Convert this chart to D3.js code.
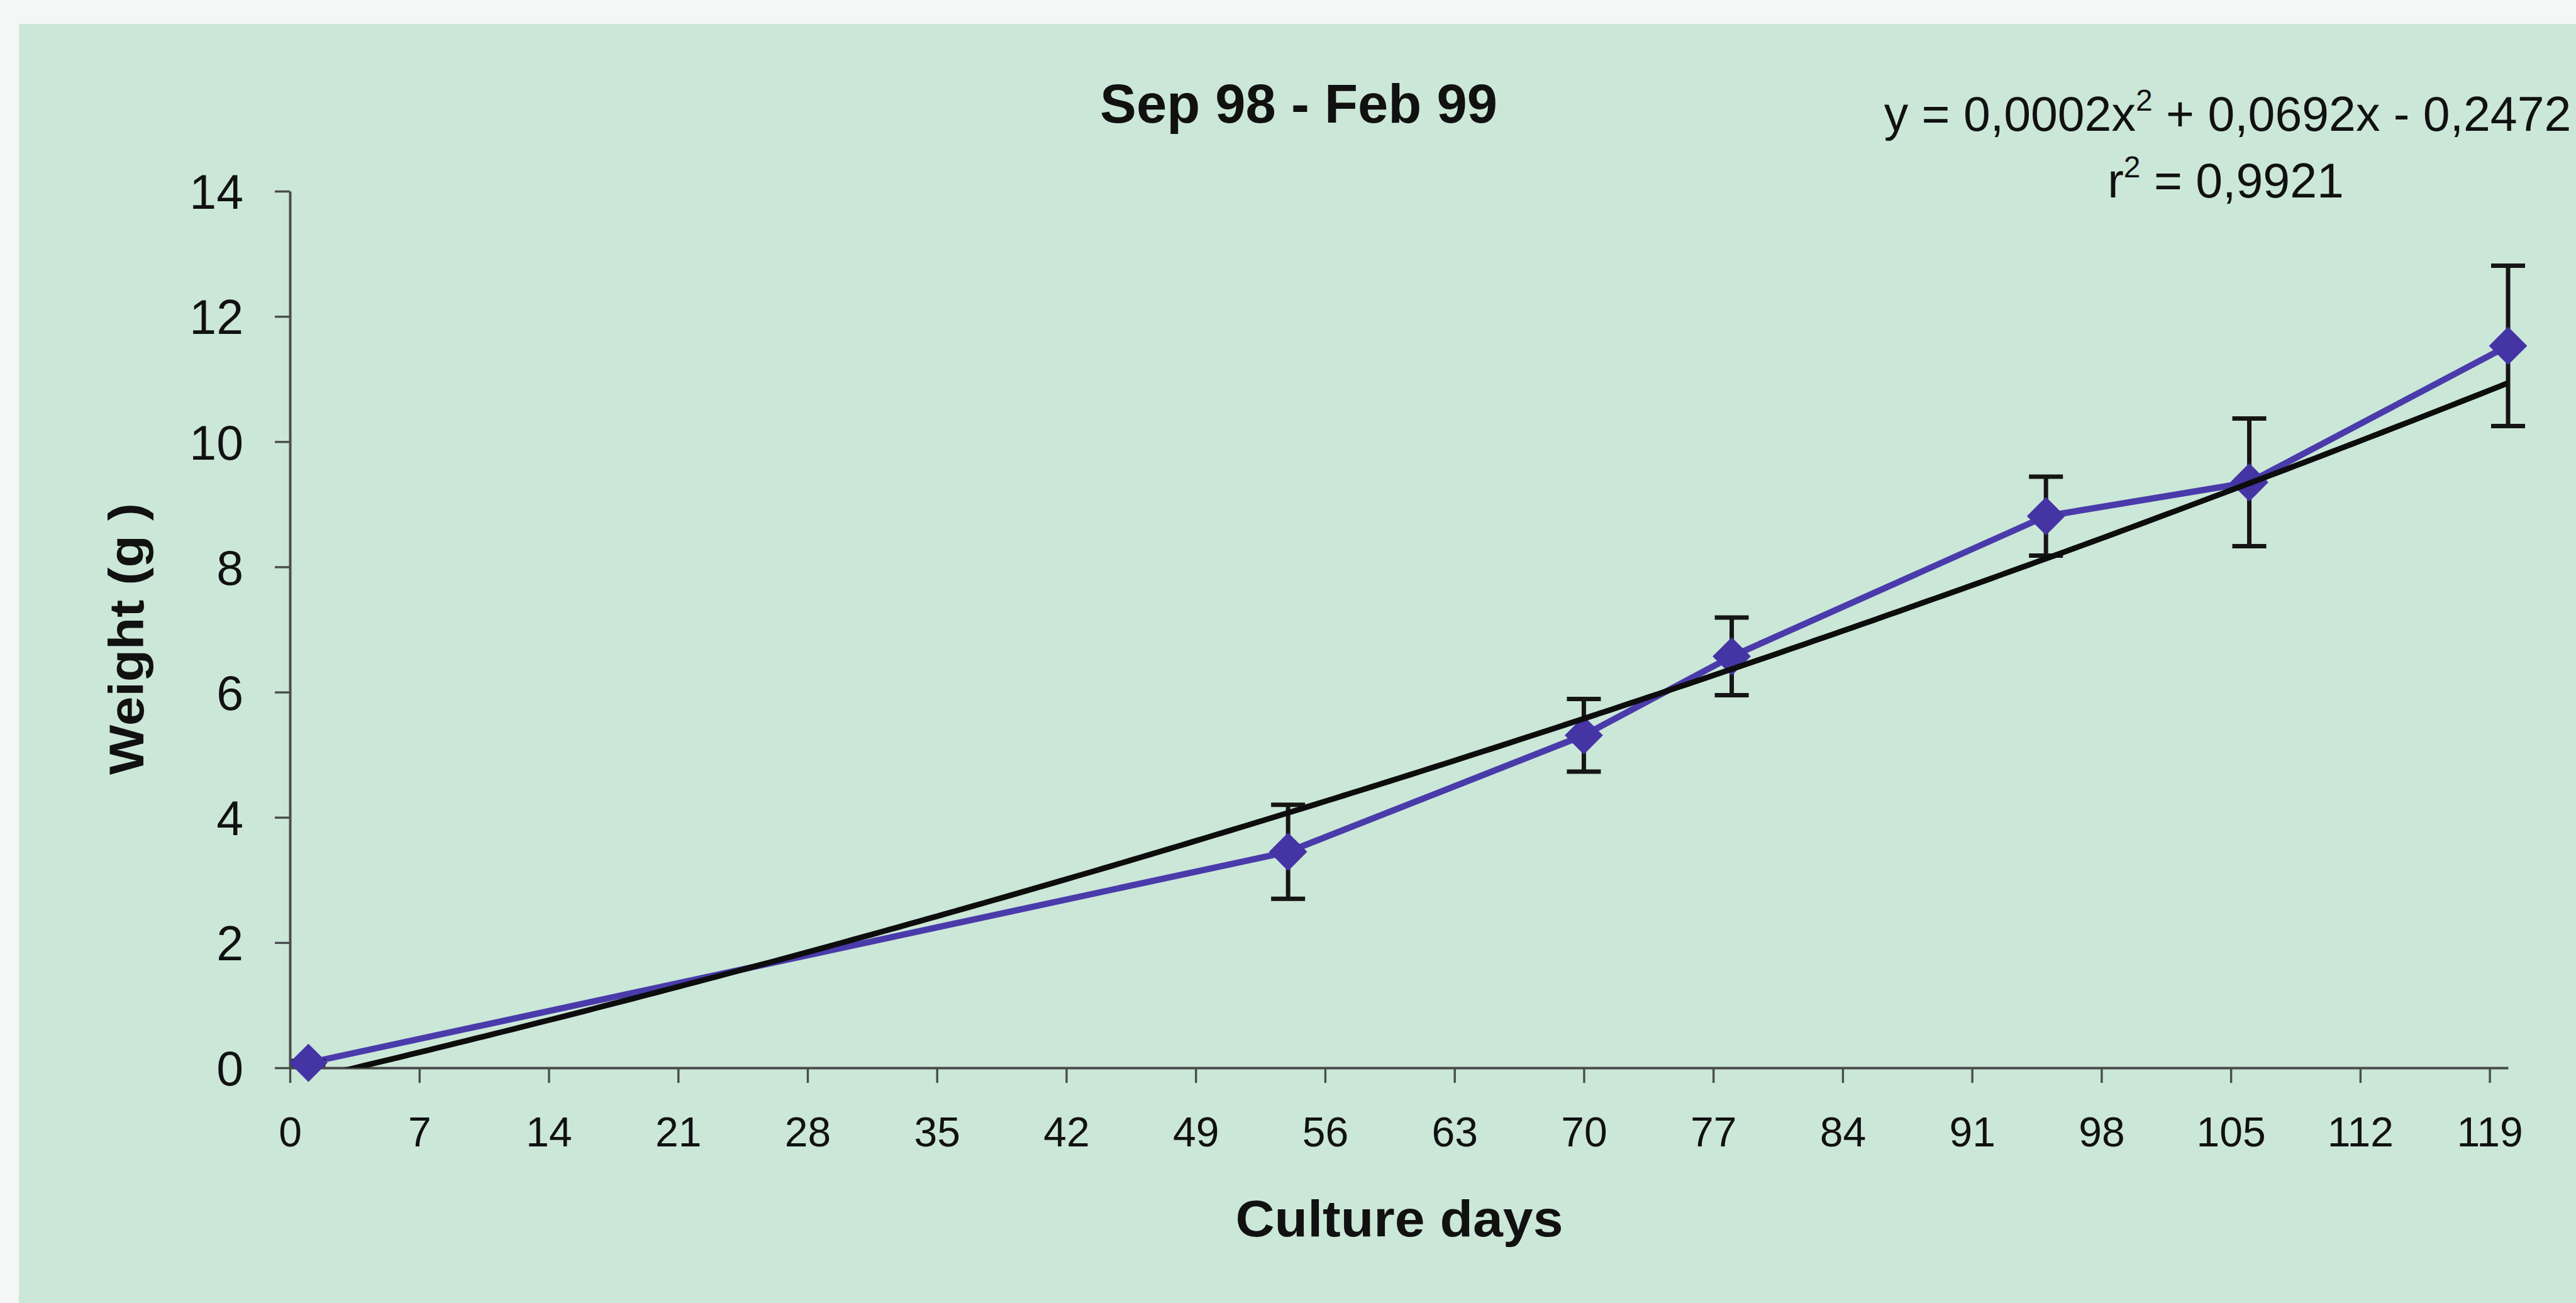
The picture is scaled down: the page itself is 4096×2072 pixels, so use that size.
<!DOCTYPE html>
<html>
<head>
<meta charset="utf-8">
<script src="https://cdn.jsdelivr.net/npm/d3@7"></script>
<style>
  html, body { margin: 0; padding: 0; background: #f4f7f5; overflow: hidden; }
  text { font-family: "Liberation Sans", Arial, Helvetica, sans-serif; fill: #111; }
</style>
</head>
<body>
<svg id="chart" width="4096" height="2072"></svg>
<script>
// ---- data ---------------------------------------------------------------
const cultureDays = [1, 54, 70, 78, 95, 106, 120];
const meanWeight  = [0.08, 3.45, 5.31, 6.57, 8.81, 9.35, 11.53];
const weightSD    = [0.03, 0.75, 0.58, 0.62, 0.63, 1.02, 1.28];

const dayTicks    = d3.range(0, 120, 7);      // 0, 7, ... 119
const weightTicks = d3.range(0, 15, 2);       // 0, 2, ... 14

// polynomial trend line: a*x^2 + b*x + c
const trendCoef = [0.0002, 0.0692, -0.2472];
const trendR2   = 0.9921;

const chartTitle = "Sep 98 - Feb 99";
const xTitle = "Culture days";
const yTitle = "Weight (g )";

// ---- layout -------------------------------------------------------------
const svg = d3.select("#chart");
const W = 4096, H = 2072;

const plot = { left: 461, right: 3988, top: 304, bottom: 1698 };

const x = d3.scaleLinear().domain([0, 120]).range([plot.left, plot.right]);
const y = d3.scaleLinear().domain([0, 14]).range([plot.bottom, plot.top]);

const lineBlue   = "#4a3bab";
const markerBlue = "#4434a4";
const axisGrey   = "#4a4c4b";

// chart area background
svg.append("rect")
  .attr("x", 30).attr("y", 38)
  .attr("width", W - 30).attr("height", H - 38)
  .attr("fill", "#cbe7d8");

// clip for marks inside the plot area
svg.append("defs").append("clipPath").attr("id", "plotClip")
  .append("rect")
  .attr("x", plot.left).attr("y", plot.top)
  .attr("width", plot.right - plot.left).attr("height", plot.bottom - plot.top);

// ---- axes ---------------------------------------------------------------
const yAxis = svg.append("g")
  .attr("transform", `translate(${plot.left},0)`)
  .call(d3.axisLeft(y).tickValues(weightTicks).tickSize(24).tickSizeOuter(0)
    .tickFormat(d3.format("d")));
yAxis.selectAll("text")
  .attr("x", -74).attr("dy", "0.36em")
  .style("font-size", "77px");

const xAxis = svg.append("g")
  .attr("transform", `translate(0,${plot.bottom})`)
  .call(d3.axisBottom(x).tickValues(dayTicks).tickSize(24).tickSizeOuter(0)
    .tickFormat(d3.format("d")));
xAxis.selectAll("text")
  .attr("y", 125).attr("dy", 0)
  .style("font-size", "66px");

[yAxis, xAxis].forEach(g => {
  g.selectAll("path.domain").attr("stroke", axisGrey).attr("stroke-width", 4);
  g.selectAll(".tick line").attr("stroke", axisGrey).attr("stroke-width", 3.4);
  g.selectAll("text").attr("fill", "#111").style("font-family", "'Liberation Sans', Arial, sans-serif");
});

// ---- series -------------------------------------------------------------
const pts = cultureDays.map((d, i) => ({ day: d, w: meanWeight[i], sd: weightSD[i] }));

const marks = svg.append("g").attr("clip-path", "url(#plotClip)");

// connecting line
marks.append("path")
  .datum(pts)
  .attr("fill", "none")
  .attr("stroke", lineBlue)
  .attr("stroke-width", 10)
  .attr("stroke-linejoin", "round")
  .attr("d", d3.line().x(p => x(p.day)).y(p => y(p.w)));

// error bars
const capHalf = 27;
const eb = svg.append("g").attr("stroke", "#151515").attr("stroke-width", 7);
pts.forEach(p => {
  const cx = x(p.day), y1 = y(p.w + p.sd), y2 = y(p.w - p.sd);
  eb.append("line").attr("x1", cx).attr("x2", cx).attr("y1", y1).attr("y2", y2);
  eb.append("line").attr("x1", cx - capHalf).attr("x2", cx + capHalf).attr("y1", y1).attr("y2", y1);
  eb.append("line").attr("x1", cx - capHalf).attr("x2", cx + capHalf).attr("y1", y2).attr("y2", y2);
});

// diamond markers
svg.append("g").selectAll("path")
  .data(pts)
  .join("path")
  .attr("d", d3.symbol(d3.symbolSquare, 43 * 43))
  .attr("transform", p => `translate(${x(p.day)},${y(p.w)}) rotate(45)`)
  .attr("fill", markerBlue);

// polynomial trend line over the observed range
const trend = d => trendCoef[0] * d * d + trendCoef[1] * d + trendCoef[2];
const trendDays = d3.range(cultureDays[0], cultureDays[cultureDays.length - 1] + 0.001, 0.5);
svg.append("g").attr("clip-path", "url(#plotClip)")
  .append("path")
  .datum(trendDays)
  .attr("fill", "none")
  .attr("stroke", "#0d0d0d")
  .attr("stroke-width", 9)
  .attr("stroke-linejoin", "round")
  .attr("d", d3.line().x(d => x(d)).y(d => y(trend(d))));

// ---- text ---------------------------------------------------------------
svg.append("text")
  .attr("x", 2065).attr("y", 195)
  .attr("text-anchor", "middle")
  .attr("textLength", 632).attr("lengthAdjust", "spacingAndGlyphs")
  .style("font-size", "88px").style("font-weight", "bold")
  .text(chartTitle);

svg.append("text")
  .attr("x", 2225).attr("y", 1966)
  .attr("text-anchor", "middle")
  .attr("textLength", 521).attr("lengthAdjust", "spacingAndGlyphs")
  .style("font-size", "82px").style("font-weight", "bold")
  .text(xTitle);

svg.append("text")
  .attr("transform", "translate(228,1016) rotate(-90)")
  .attr("text-anchor", "middle")
  .attr("textLength", 432).attr("lengthAdjust", "spacingAndGlyphs")
  .style("font-size", "78px").style("font-weight", "bold")
  .text(yTitle);

// trend equation and coefficient of determination (comma decimals)
const dec = v => Math.abs(v).toFixed(4).replace(".", ",");
const sign = v => (v < 0 ? " - " : " + ");

const eq = svg.append("text")
  .attr("x", 3542).attr("y", 208)
  .attr("text-anchor", "middle")
  .style("font-size", "77px");
eq.append("tspan").text(`y = ${dec(trendCoef[0])}x`);
eq.append("tspan").attr("dy", -32).style("font-size", "48px").text("2");
eq.append("tspan").attr("dy", 32)
  .text(`${sign(trendCoef[1])}${dec(trendCoef[1])}x${sign(trendCoef[2])}${dec(trendCoef[2])}`);

const r2 = svg.append("text")
  .attr("x", 3539).attr("y", 314)
  .attr("text-anchor", "middle")
  .style("font-size", "77px");
r2.append("tspan").text("r");
r2.append("tspan").attr("dy", -32).style("font-size", "48px").text("2");
r2.append("tspan").attr("dy", 32).text(` = ${dec(trendR2)}`);
</script>
</body>
</html>
